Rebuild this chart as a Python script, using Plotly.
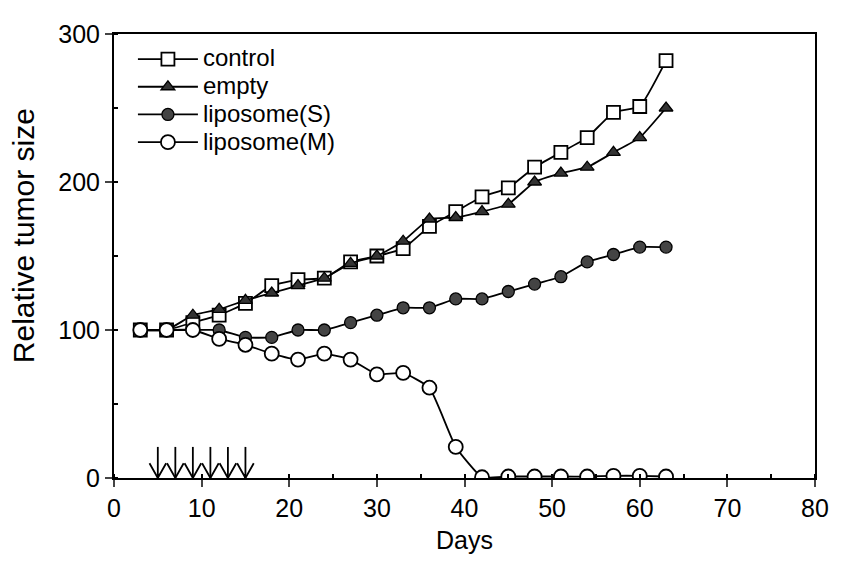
import plotly.graph_objects as go

days = [3, 6, 9, 12, 15, 18, 21, 24, 27, 30, 33, 36, 39, 42, 45, 48, 51, 54, 57, 60, 63]
control = [100, 100, 105, 110, 118, 130, 134, 135, 146, 150, 155, 170, 180, 190, 196, 210, 220, 230, 247, 251, 282]
empty = [100, 100, 110, 114, 120, 125, 130, 135, 145, 150, 160, 175, 176, 180, 185, 200, 206, 210, 220, 230, 250]
lipo_s = [100, 100, 100, 100, 95, 95, 100, 100, 105, 110, 115, 115, 121, 121, 126, 131, 136, 146, 151, 156, 156]
lipo_m = [100, 100, 100, 94, 90, 84, 80, 84, 80, 70, 71, 61, 21, 0.5, 1, 1, 1, 1, 1.5, 1.5, 1]
dose_days = [5, 7, 9, 11, 13, 15]
x_ticks = [0, 10, 20, 30, 40, 50, 60, 70, 80]
y_ticks = [0, 100, 200, 300]

FONT = "Liberation Sans, Arial, sans-serif"

fig = go.Figure()
series = [
    ("control", control, dict(symbol="square", color="white", size=13, line=dict(color="black", width=1.8))),
    ("empty", empty, dict(symbol="triangle-up", color="#333333", size=12, line=dict(color="black", width=1.3))),
    ("liposome(S)", lipo_s, dict(symbol="circle", color="#444444", size=12, line=dict(color="black", width=1.3))),
    ("liposome(M)", lipo_m, dict(symbol="circle", color="white", size=14, line=dict(color="black", width=1.8))),
]
for name, vals, mk in series:
    fig.add_trace(go.Scatter(x=days, y=vals, mode="lines+markers",
                             name=f'<span style="font-size:24px">{name}</span>',
                             line=dict(color="black", width=1.8, shape="spline", smoothing=0.4),
                             marker=mk))

# dosing arrows
shapes = []
for d in dose_days:
    shapes.append(dict(type="line", xref="x", yref="y", x0=d, y0=21, x1=d, y1=0,
                       line=dict(color="black", width=1.8)))
    shapes.append(dict(type="path", xref="x", yref="y",
                       path=f"M{d-0.95},10 L{d},0 L{d+0.95},10",
                       line=dict(color="black", width=1.8)))

# page body has an 8px default margin, so the figure is sized to fit the window
fig.update_layout(
    width=833, height=555,
    margin=dict(l=106, r=15, t=19, b=85),
    paper_bgcolor="white", plot_bgcolor="white",
    font=dict(family=FONT, size=24, color="black"),
    shapes=shapes,
    showlegend=True,
    legend=dict(x=0.027, y=0.986, xanchor="left", yanchor="top",
                bgcolor="rgba(0,0,0,0)", font=dict(size=19, family=FONT),
                itemwidth=60, tracegroupgap=0),
    annotations=[dict(text="Relative tumor size", xref="paper", yref="paper",
                      x=-0.129, y=0.546, xanchor="center", yanchor="middle",
                      textangle=-90, showarrow=False, font=dict(size=30, family=FONT))],
    xaxis=dict(range=[0, 80], tickvals=x_ticks, ticks="outside", ticklen=7, tickwidth=1.6,
               showline=True, linecolor="black", linewidth=2, mirror=True,
               showgrid=False, zeroline=False,
               minor=dict(ticks="inside", ticklen=4, dtick=5, tickcolor="black", showgrid=False),
               title=dict(text="Days", font=dict(size=25), standoff=10),
               tickfont=dict(size=25)),
    yaxis=dict(range=[0, 300], tickvals=y_ticks, ticks="outside", ticklen=7, tickwidth=1.6,
               showline=True, linecolor="black", linewidth=2, mirror=True,
               showgrid=False, zeroline=False,
               minor=dict(ticks="inside", ticklen=4, dtick=50, tickcolor="black", showgrid=False),
               tickfont=dict(size=25)),
)

fig.write_html("out.html")
